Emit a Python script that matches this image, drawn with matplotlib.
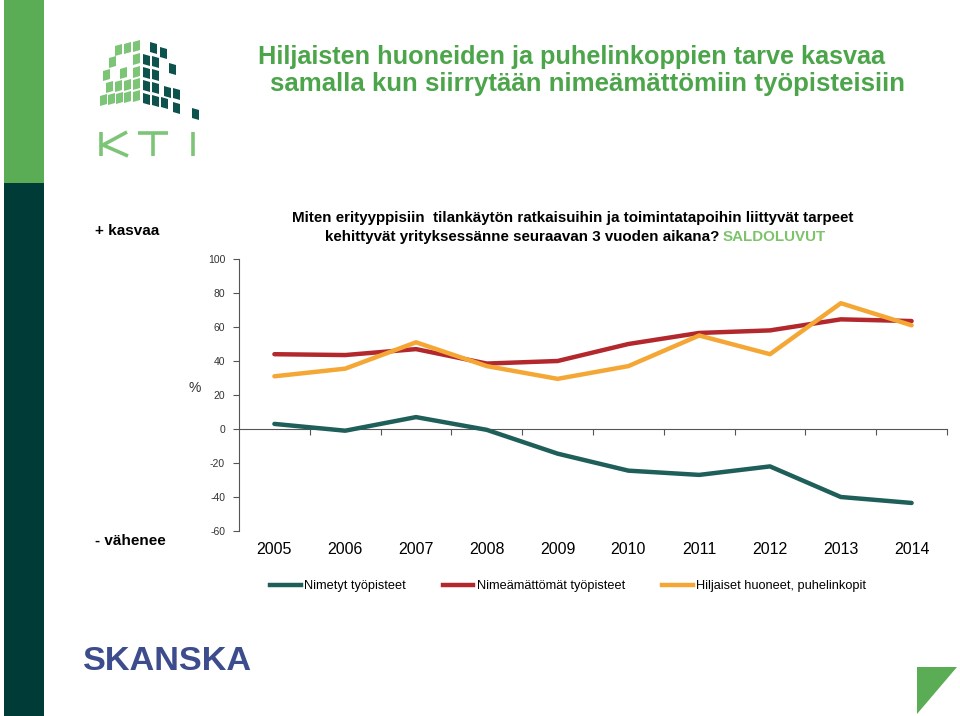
import numpy as np
import matplotlib
matplotlib.use("Agg")
import matplotlib.pyplot as plt
from matplotlib.patches import Rectangle, Polygon
from matplotlib.lines import Line2D
import matplotlib.transforms as mtransforms

# --- data (saldoluvut, %) ---
years = ["2005", "2006", "2007", "2008", "2009", "2010", "2011", "2012", "2013", "2014"]
nimetyt = [3, -1, 7, -0.5, -14.5, -24.5, -27, -22, -40, -43.5]
nimeamattomat = [44, 43.5, 47, 38.5, 40, 50, 56.5, 58, 64.5, 63.5]
hiljaiset = [31, 35.5, 51, 37, 29.5, 37, 55, 44, 74, 61]
series_names = ["Nimetyt työpisteet", "Nimeämättömät työpisteet", "Hiljaiset huoneet, puhelinkopit"]
series_colors = ["#1f5f5a", "#b3282d", "#f5a735"]
yticks = [100, 80, 60, 40, 20, 0, -20, -40, -60]

W, H = 960, 716
fig = plt.figure(figsize=(W / 100, H / 100), dpi=100)
fig.patch.set_facecolor("white")

def fx(x):
    return x / W

def fy(y):
    return 1 - y / H

narrow = ["Liberation Sans Narrow", "Liberation Sans", "DejaVu Sans"]
arial = ["Liberation Sans", "DejaVu Sans"]

# left side band
fig.patches.append(Rectangle((fx(4), fy(183)), fx(40), 183 / H, transform=fig.transFigure,
                             facecolor="#5aad55", edgecolor="none"))
fig.patches.append(Rectangle((fx(4), 0), fx(40), 1 - 183 / H, transform=fig.transFigure,
                             facecolor="#003b37", edgecolor="none"))

# bottom-right triangle
fig.patches.append(Polygon([(fx(917), fy(667)), (fx(957), fy(667)), (fx(917), fy(714))],
                           closed=True, transform=fig.transFigure,
                           facecolor="#5aad55", edgecolor="none"))

# KTI logo: building of small slanted blocks
light = [(115, 44), (124, 42), (133, 40),
         (109, 56), (133, 53),
         (103, 69), (120, 67), (133, 66),
         (106, 81), (115, 80), (124, 79), (133, 78),
         (100, 94), (108, 93), (116, 92), (124, 91), (133, 90)]
dark = [(150, 42), (160, 47),
        (143, 54), (152, 56), (169, 63),
        (143, 67), (152, 69),
        (143, 80), (152, 82), (164, 86), (173, 88),
        (143, 93), (152, 95), (161, 97), (173, 102), (192, 108)]
for blocks, col in [(light, "#7cc576"), (dark, "#0d524d")]:
    for (bx, by) in blocks:
        w, h, sk = 7, 10, 2
        pts = [(bx, by + sk), (bx + w, by), (bx + w, by + h), (bx, by + h + sk)]
        if col == "#0d524d":
            pts = [(bx, by), (bx + w, by + sk), (bx + w, by + h + sk), (bx, by + h)]
        fig.patches.append(Polygon([(fx(a), fy(b)) for a, b in pts], closed=True,
                                   transform=fig.transFigure, facecolor=col, edgecolor="none"))

# KTI lettering drawn as thin strokes
kti_strokes = [
    [(101, 132), (101, 156)],                 # K stem
    [(127, 132), (103, 145), (128, 156)],     # K arms
    [(138, 133), (168, 133)],                 # T bar
    [(153, 133), (153, 156)],                 # T stem
    [(193, 132), (193, 156)],                 # I
]
for stroke in kti_strokes:
    xs = [fx(p[0]) for p in stroke]
    ys = [fy(p[1]) for p in stroke]
    fig.add_artist(Line2D(xs, ys, transform=fig.transFigure, color="#7cc576", lw=2.6,
                          solid_capstyle="butt", solid_joinstyle="miter"))

# slide title
title_col = "#4ca54a"
fig.text(fx(572), fy(57), "Hiljaisten huoneiden ja puhelinkoppien tarve kasvaa",
         ha="center", va="center", fontsize=18.2, fontweight="bold", color=title_col, family=arial)
fig.text(fx(588), fy(84), "samalla kun siirrytään nimeämättömiin työpisteisiin",
         ha="center", va="center", fontsize=18.6, fontweight="bold", color=title_col, family=arial)

# chart heading
fig.text(fx(573), fy(218),
         "Miten erityyppisiin  tilankäytön ratkaisuihin ja toimintatapoihin liittyvät tarpeet",
         ha="center", va="center", fontsize=10.9, fontweight="bold", color="black", family=narrow)
fig.text(fx(719), fy(237), "kehittyvät yrityksessänne seuraavan 3 vuoden aikana?",
         ha="right", va="center", fontsize=10.9, fontweight="bold", color="black", family=narrow)
fig.text(fx(723), fy(237), "SALDOLUVUT", ha="left", va="center", fontsize=10.9,
         fontweight="bold", color="#7dc36b", family=narrow)

fig.text(fx(95), fy(231), "+ kasvaa", ha="left", va="center", fontsize=11,
         fontweight="bold", color="black", family=arial)
fig.text(fx(95), fy(541), "- vähenee", ha="left", va="center", fontsize=11,
         fontweight="bold", color="black", family=arial)
fig.text(fx(195), fy(388), "%", ha="center", va="center", fontsize=10,
         color="#333333", family=arial)

# chart
ax = fig.add_axes([fx(239), fy(531), (947 - 239) / W, (531 - 259) / H])
x = np.arange(len(years))
for vals, col, name in zip([nimetyt, nimeamattomat, hiljaiset], series_colors, series_names):
    ax.plot(x, vals, color=col, lw=3.2, solid_capstyle="round", label=name, zorder=3)

ax.set_xlim(-0.5, len(years) - 0.5)
ax.set_ylim(-60, 100)
ax.set_yticks(yticks)
ax.set_yticklabels([str(v) for v in yticks], fontsize=7.5, color="#333333", family=narrow)
ax.tick_params(axis="y", direction="out", length=4, width=0.8, color="#555555", pad=6)

ax.spines["top"].set_visible(False)
ax.spines["right"].set_visible(False)
ax.spines["left"].set_color("#555555")
ax.spines["bottom"].set_color("#555555")
ax.spines["bottom"].set_position(("data", 0))
ax.set_xticks(np.arange(0.5, len(years), 1.0))
ax.set_xticklabels([])
ax.tick_params(axis="x", direction="out", length=4, width=0.8, color="#555555")

trans = mtransforms.blended_transform_factory(ax.transData, ax.transAxes)
for i, yr in enumerate(years):
    ax.text(i, -18 / 272, yr, transform=trans, ha="center", va="center",
            fontsize=11.5, color="black", family=narrow)

handles = [Line2D([0], [0], color=c, lw=3.2) for c in series_colors]
fig.legend(handles, series_names, loc="center", bbox_to_anchor=(fx(568), fy(586)),
           ncol=3, frameon=False, handlelength=2.4, handletextpad=0.25,
           columnspacing=2.9, prop={"family": narrow, "size": 9.2})

# Skanska logo
fig.text(fx(83), fy(662), "SKANSKA", ha="left", va="center", fontsize=24.7,
         fontweight="bold", color="#3c4c8d", family=arial)

fig.savefig("out.png", dpi=100, facecolor="white")
